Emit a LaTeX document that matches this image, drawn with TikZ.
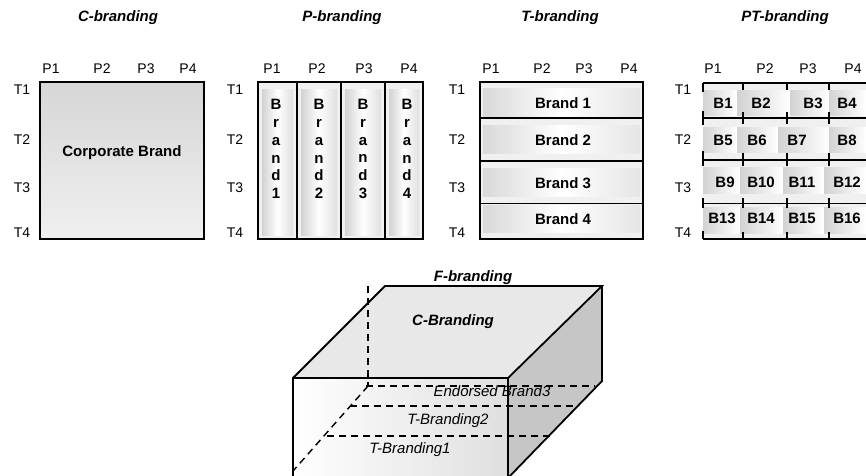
\documentclass[tikz,border=0pt]{standalone}
\usepackage{fontspec}
\setmainfont{Liberation Sans}
\usepackage{tikz}

\begin{document}
\begin{tikzpicture}[x=1pt, y=-1pt,
lbl/.style={font=\fontsize{14}{16}\selectfont, inner sep=0pt},
ttl/.style={font=\fontsize{15}{18}\selectfont\bfseries\itshape, inner sep=0pt},
brand/.style={font=\fontsize{15}{17.8}\selectfont\bfseries, inner sep=0pt, align=center},
cell/.style={font=\fontsize{15}{17}\selectfont\bfseries, inner sep=0pt},
face/.style={font=\fontsize{15}{18}\selectfont\itshape, inner sep=0pt},
frame/.style={draw=black, line width=1.8pt},
sep/.style={draw=black, line width=1.5pt},
hidden/.style={draw=black, line width=1.4pt, dash pattern=on 7pt off 5pt}]
\useasboundingbox (0,0) rectangle (866,475);
\fill[white] (0,0) rectangle (866,475);
\node[ttl] (ctitle) at (118,18) {C-branding};
\node[ttl] (ptitle) at (342,18) {P-branding};
\node[ttl] (ttitle) at (560,18) {T-branding};
\node[ttl] (pttitle) at (785,18) {PT-branding};
\shade[top color=gray!32, middle color=white, bottom color=gray!12] (40,82) rectangle (204,239);
\draw[frame] (40,82) rectangle (204,239);
\node[lbl] (cp1) at (51,69) {P1};
\node[lbl] (cp2) at (102,69) {P2};
\node[lbl] (cp3) at (146,69) {P3};
\node[lbl] (cp4) at (188,69) {P4};
\node[lbl] (ct1) at (22,90) {T1};
\node[lbl] (ct2) at (22,140) {T2};
\node[lbl] (ct3) at (22,188) {T3};
\node[lbl] (ct4) at (22,233) {T4};
\node[cell] (corp) at (122,153) {Corporate Brand};
\fill[gray!12] (258,82) rectangle (423,239);
\shade[left color=gray!35, right color=gray!25, middle color=white] (262,89) rectangle (293,235);
\shade[left color=gray!35, right color=gray!25, middle color=white] (301,89) rectangle (337,235);
\shade[left color=gray!35, right color=gray!25, middle color=white] (345,89) rectangle (381,235);
\shade[left color=gray!35, right color=gray!25, middle color=white] (389,89) rectangle (419,235);
\draw[sep] (297,82) -- (297,239);
\draw[sep] (341,82) -- (341,239);
\draw[sep] (385,82) -- (385,239);
\draw[frame] (258,82) rectangle (423,239);
\node[lbl] (pp1) at (272,69) {P1};
\node[lbl] (pp2) at (317,69) {P2};
\node[lbl] (pp3) at (364,69) {P3};
\node[lbl] (pp4) at (409,69) {P4};
\node[lbl] (pt1) at (235,90) {T1};
\node[lbl] (pt2) at (235,140) {T2};
\node[lbl] (pt3) at (235,188) {T3};
\node[lbl] (pt4) at (235,233) {T4};
\node[brand] (pbrand1) at (276,149) {B\\r\\a\\n\\d\\1};
\node[brand] (pbrand2) at (319,149) {B\\r\\a\\n\\d\\2};
\node[brand] (pbrand3) at (363,149) {B\\r\\a\\n\\d\\3};
\node[brand] (pbrand4) at (407,149) {B\\r\\a\\n\\d\\4};
\fill[gray!12] (480,82) rectangle (643,239);
\shade[left color=gray!30, right color=gray!20, middle color=white] (483,88) rectangle (640,116);
\shade[left color=gray!30, right color=gray!20, middle color=white] (483,125) rectangle (640,153);
\shade[left color=gray!30, right color=gray!20, middle color=white] (483,168) rectangle (640,196);
\shade[left color=gray!30, right color=gray!20, middle color=white] (483,205) rectangle (640,232);
\draw[sep] (480,118) -- (643,118);
\draw[sep] (480,161) -- (643,161);
\draw[black, line width=0.8pt] (480,203) -- (643,203);
\draw[frame] (480,82) rectangle (643,239);
\node[lbl] (tp1) at (491,69) {P1};
\node[lbl] (tp2) at (542,69) {P2};
\node[lbl] (tp3) at (584,69) {P3};
\node[lbl] (tp4) at (629,69) {P4};
\node[lbl] (tt1) at (457,90) {T1};
\node[lbl] (tt2) at (457,140) {T2};
\node[lbl] (tt3) at (457,188) {T3};
\node[lbl] (tt4) at (457,233) {T4};
\node[cell] (tbrand1) at (563,103) {Brand 1};
\node[cell] (tbrand2) at (563,140) {Brand 2};
\node[cell] (tbrand3) at (563,183) {Brand 3};
\node[cell] (tbrand4) at (563,219) {Brand 4};
\fill[gray!12] (703,83) rectangle (866,239);
\shade[left color=gray!35, right color=white] (703,90) rectangle (737,115);
\shade[left color=gray!35, right color=white] (737,90) rectangle (790,115);
\shade[left color=gray!35, right color=white] (790,90) rectangle (829,115);
\shade[left color=gray!35, right color=white] (829,90) rectangle (866,115);
\shade[left color=gray!35, right color=white] (703,127) rectangle (737,152);
\shade[left color=gray!35, right color=white] (737,127) rectangle (778,152);
\shade[left color=gray!35, right color=white] (778,127) rectangle (829,152);
\shade[left color=gray!35, right color=white] (829,127) rectangle (866,152);
\shade[left color=gray!35, right color=white] (703,167) rectangle (740,193);
\shade[left color=gray!35, right color=white] (740,167) rectangle (783,193);
\shade[left color=gray!35, right color=white] (783,167) rectangle (824,193);
\shade[left color=gray!35, right color=white] (824,167) rectangle (866,193);
\shade[left color=gray!35, right color=white] (703,207) rectangle (740,233);
\shade[left color=gray!35, right color=white] (740,207) rectangle (783,233);
\shade[left color=gray!35, right color=white] (783,207) rectangle (824,233);
\shade[left color=gray!35, right color=white] (824,207) rectangle (866,233);
\draw[frame] (703,83) -- (866,83);
\draw[sep] (703,118) -- (866,118);
\draw[sep] (703,160) -- (866,160);
\draw[black, line width=0.8pt] (703,203) -- (866,203);
\draw[frame] (703,239) -- (866,239);
\draw[sep] (703,83) -- (703,92);
\draw[sep] (743,83) -- (743,90);
\draw[sep] (787,83) -- (787,90);
\draw[sep] (829,83) -- (829,90);
\draw[sep] (703,111) -- (703,125);
\draw[sep] (743,112) -- (743,124);
\draw[sep] (787,112) -- (787,124);
\draw[sep] (829,112) -- (829,124);
\draw[sep] (703,151) -- (703,166);
\draw[sep] (743,153) -- (743,166);
\draw[sep] (787,153) -- (787,166);
\draw[sep] (829,153) -- (829,166);
\draw[sep] (703,198) -- (703,208);
\draw[sep] (743,198) -- (743,208);
\draw[sep] (787,198) -- (787,208);
\draw[sep] (829,198) -- (829,208);
\draw[sep] (703,231) -- (703,239);
\draw[sep] (743,232) -- (743,239);
\draw[sep] (787,232) -- (787,239);
\draw[sep] (829,232) -- (829,239);
\node[lbl] (ptp1) at (713,69) {P1};
\node[lbl] (ptp2) at (765,69) {P2};
\node[lbl] (ptp3) at (808,69) {P3};
\node[lbl] (ptp4) at (853,69) {P4};
\node[lbl] (ptt1) at (683,90) {T1};
\node[lbl] (ptt2) at (683,140) {T2};
\node[lbl] (ptt3) at (683,188) {T3};
\node[lbl] (ptt4) at (683,233) {T4};
\node[cell] (b1) at (723,103) {B1};
\node[cell] (b2) at (761,103) {B2};
\node[cell] (b3) at (813,103) {B3};
\node[cell] (b4) at (847,103) {B4};
\node[cell] (b5) at (723,140) {B5};
\node[cell] (b6) at (757,140) {B6};
\node[cell] (b7) at (797,140) {B7};
\node[cell] (b8) at (847,140) {B8};
\node[cell] (b9) at (725,182) {B9};
\node[cell] (b10) at (761,182) {B10};
\node[cell] (b11) at (802,182) {B11};
\node[cell] (b12) at (847,182) {B12};
\node[cell] (b13) at (722,218) {B13};
\node[cell] (b14) at (761,218) {B14};
\node[cell] (b15) at (802,218) {B15};
\node[cell] (b16) at (847,218) {B16};
\coordinate (fl) at (293,378);
\coordinate (fr) at (508,378);
\coordinate (bl) at (385,286);
\coordinate (br) at (602,286);
\coordinate (rb) at (602,381);
\coordinate (flb) at (293,478);
\coordinate (frb) at (508,478);
\shade[left color=white, right color=gray!25] (fl) rectangle (frb);
\fill[gray!18] (fl) -- (bl) -- (br) -- (fr) -- cycle;
\fill[gray!45] (fr) -- (br) -- (rb) -- (frb) -- cycle;
\draw[hidden] (368,286) -- (368,386);
\draw[hidden] (368,386) -- (293,471);
\draw[hidden] (366,386) -- (595,386);
\draw[hidden] (350,406) -- (578,406);
\draw[hidden] (327,436) -- (550,436);
\draw[frame] (flb) -- (fl) -- (fr) -- (frb);
\draw[frame, line join=miter] (fl) -- (bl) -- (br) -- (fr);
\draw[frame] (br) -- (rb) -- (frb);
\node[ttl] (ftitle) at (473,278) {F-branding};
\node[ttl] (ctop) at (453,322) {C-Branding};
\node[face] (endorsed) at (492,391) {Endorsed Brand3};
\node[face] (tb2) at (448,421) {T-Branding2};
\node[face] (tb1) at (410,450) {T-Branding1};
\end{tikzpicture}
\end{document}
